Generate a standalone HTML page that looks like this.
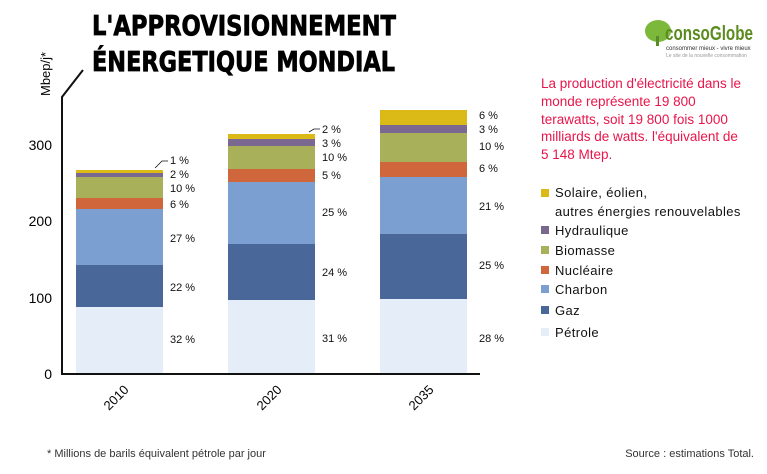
<!DOCTYPE html><html><head><meta charset="utf-8"><style>body{margin:0;background:#fff;width:767px;height:469px;overflow:hidden}</style></head><body>
<svg width="767" height="469" xmlns="http://www.w3.org/2000/svg" font-family="Liberation Sans, DejaVu Sans, sans-serif">
<g font-family="DejaVu Sans, sans-serif" font-weight="bold" stroke="#000" stroke-width="0.8">
<text x="92" y="35" font-size="28" textLength="304" lengthAdjust="spacingAndGlyphs">L'APPROVISIONNEMENT</text>
<text x="92" y="71" font-size="28" textLength="303" lengthAdjust="spacingAndGlyphs">ÉNERGETIQUE MONDIAL</text>
</g>
<text transform="translate(50,96) rotate(-90)" font-size="13">Mbep/j*</text>
<polyline points="83,70 62,97 62,374 480,374" fill="none" stroke="#111" stroke-width="2"/>
<g font-size="14" text-anchor="end"><text x="52" y="150">300</text><text x="52" y="226">200</text><text x="52" y="303">100</text><text x="52" y="379">0</text></g>
<g>
<rect x="76" y="307" width="87" height="66" fill="#e4edf8"/><rect x="76" y="265" width="87" height="42" fill="#4a679a"/><rect x="76" y="209" width="87" height="56" fill="#7b9fd0"/><rect x="76" y="198" width="87" height="11" fill="#d0673c"/><rect x="76" y="177" width="87" height="21" fill="#a8b05a"/><rect x="76" y="173" width="87" height="4" fill="#7a6890"/><rect x="76" y="170" width="87" height="3" fill="#dbb917"/>
<rect x="228" y="300" width="87" height="73" fill="#e4edf8"/><rect x="228" y="244" width="87" height="56" fill="#4a679a"/><rect x="228" y="182" width="87" height="62" fill="#7b9fd0"/><rect x="228" y="169" width="87" height="13" fill="#d0673c"/><rect x="228" y="146" width="87" height="23" fill="#a8b05a"/><rect x="228" y="139" width="87" height="7" fill="#7a6890"/><rect x="228" y="134" width="87" height="5" fill="#dbb917"/>
<rect x="380" y="299" width="87" height="74" fill="#e4edf8"/><rect x="380" y="234" width="87" height="65" fill="#4a679a"/><rect x="380" y="177" width="87" height="57" fill="#7b9fd0"/><rect x="380" y="162" width="87" height="15" fill="#d0673c"/><rect x="380" y="133" width="87" height="29" fill="#a8b05a"/><rect x="380" y="125" width="87" height="8" fill="#7a6890"/><rect x="380" y="110" width="87" height="15" fill="#dbb917"/>
</g>
<g font-size="11" fill="#111">
<path d="M155,168 L162,161 L168,161" stroke="#111" fill="none" stroke-width="0.8"/>
<text x="170" y="164">1 %</text><text x="170" y="178">2 %</text><text x="170" y="192">10 %</text><text x="170" y="208">6 %</text><text x="170" y="242">27 %</text><text x="170" y="291">22 %</text><text x="170" y="343">32 %</text>
<path d="M309,132 L314,129 L320,129" stroke="#111" fill="none" stroke-width="0.8"/>
<text x="322" y="133">2 %</text><text x="322" y="147">3 %</text><text x="322" y="161">10 %</text><text x="322" y="179">5 %</text><text x="322" y="216">25 %</text><text x="322" y="276">24 %</text><text x="322" y="342">31 %</text>
<text x="479" y="119">6 %</text><text x="479" y="133">3 %</text><text x="479" y="150">10 %</text><text x="479" y="172">6 %</text><text x="479" y="210">21 %</text><text x="479" y="269">25 %</text><text x="479" y="342">28 %</text>
</g>
<g font-size="13">
<text transform="translate(109,411) rotate(-45)">2010</text>
<text transform="translate(262,411) rotate(-45)">2020</text>
<text transform="translate(414,411) rotate(-45)">2035</text>
</g>
<text x="47" y="457" font-size="11" fill="#333">* Millions de barils équivalent pétrole par jour</text>
<text x="754" y="457" font-size="11" fill="#333" text-anchor="end">Source : estimations Total.</text>
<g fill="#e8154a" font-size="13.5">
<text x="541" y="88">La production d'électricité dans le</text>
<text x="541" y="106">monde représente 19 800</text>
<text x="541" y="124">terawatts, soit 19 800 fois 1000</text>
<text x="541" y="141">milliards de watts. l'équivalent de</text>
<text x="541" y="159">5 148 Mtep.</text>
</g>
<g>
<ellipse cx="658" cy="31" rx="13" ry="11" fill="#7cb83a"/><rect x="656" y="36" width="3" height="10" fill="#5a8a2a"/>
<text x="665" y="40" font-size="20" font-weight="bold" fill="#5c8c20" textLength="88" lengthAdjust="spacingAndGlyphs">consoGlobe</text>
<text x="666" y="50" font-size="6" fill="#333">consommer mieux - vivre mieux</text>
<text x="666" y="57" font-size="5" fill="#999">Le site de la nouvelle consommation</text>
</g>
<g font-size="13" fill="#111" letter-spacing="0.4">
<rect x="541" y="189" width="8" height="8" fill="#dbb917"/><text x="555" y="197">Solaire, éolien,</text><text x="555" y="216">autres énergies renouvelables</text>
<rect x="541" y="226" width="8" height="8" fill="#7a6890"/><text x="555" y="235">Hydraulique</text>
<rect x="541" y="246" width="8" height="8" fill="#a8b05a"/><text x="555" y="255">Biomasse</text>
<rect x="541" y="266" width="8" height="8" fill="#d0673c"/><text x="555" y="275">Nucléaire</text>
<rect x="541" y="285" width="8" height="8" fill="#7b9fd0"/><text x="555" y="294">Charbon</text>
<rect x="541" y="306" width="8" height="8" fill="#4a679a"/><text x="555" y="315">Gaz</text>
<rect x="541" y="328" width="8" height="8" fill="#e4edf8"/><text x="555" y="337">Pétrole</text>
</g>
</svg></body></html>
